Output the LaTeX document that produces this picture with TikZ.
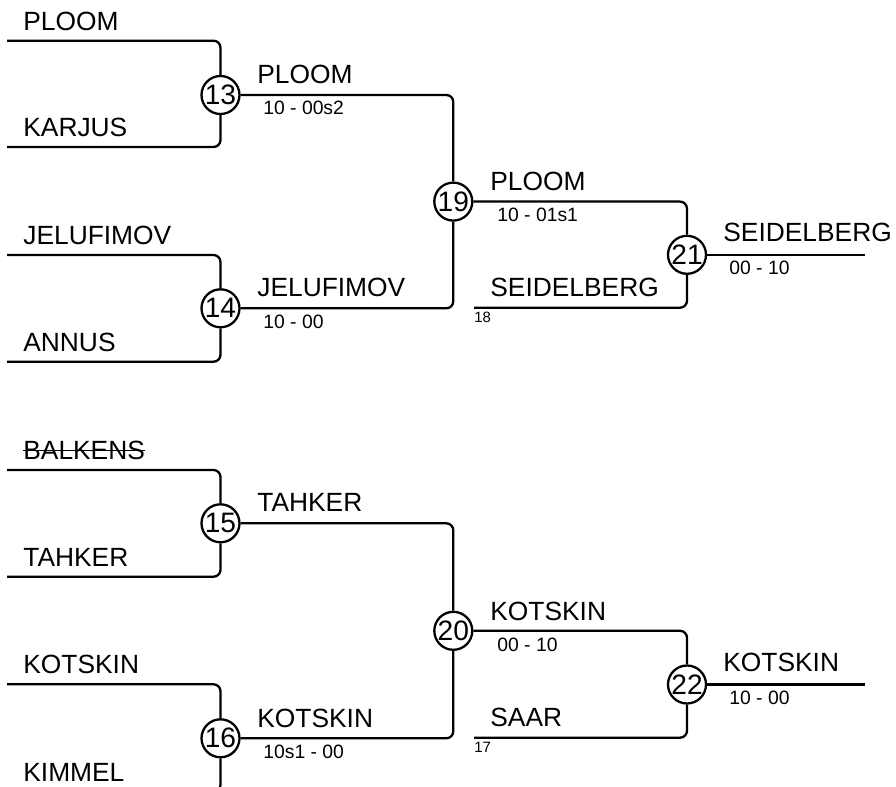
\documentclass[tikz,border=0pt]{standalone}
\usepackage{fontspec}
\setmainfont{Liberation Sans}
\usepackage{tikz}

\tikzset{
  match/.style={circle,draw,line width=1.3pt,minimum size=0.76cm,inner sep=0pt,font=\fontsize{16}{18}\selectfont},
  player/.style={anchor=base west,inner sep=0pt,font=\fontsize{15}{18}\selectfont},
  result/.style={anchor=base west,inner sep=0pt,font=\fontsize{11}{13}\selectfont},
  seed/.style={anchor=base west,inner sep=0pt,font=\fontsize{8.5}{10}\selectfont},
  bracket/.style={line width=1.3pt,rounded corners=0.14cm},
}

\begin{document}
\begin{tikzpicture}[x=0.02cm,y=-0.02cm]
            \useasboundingbox (0,0) rectangle (896,787);
            \clip (0,0) rectangle (896,787);

            % upper half
            \node[match] (m13) at (220.5,95){13};
            \node[match] (m14) at (220.5,308.3){14};
            \node[match] (m19) at (453.3,201.6){19};
            \node[match] (m21) at (687,254.8){21};
            \coordinate (e13a) at (7,40.7);
            \coordinate (e13b) at (7,147);
            \coordinate (e14a) at (7,255);
            \coordinate (e14b) at (7,361.7);
            \coordinate (e21b) at (474,307.7);
            \coordinate (w21) at (865,254.8);

            \draw[bracket] (e13a) -| (m13);
            \draw[bracket] (e13b) -| (m13);
            \draw[bracket] (e14a) -| (m14);
            \draw[bracket] (e14b) -| (m14);
            \draw[bracket] (m13) -| (m19);
            \draw[bracket] (m14) -| (m19);
            \draw[bracket] (m19) -| (m21);
            \draw[bracket] (e21b) -| (m21);
            \draw[bracket] (m21) -- (w21);

            \node[player] (n13a) at (23,30.2){PLOOM};
            \node[player] (n13b) at (23,136.5){KARJUS};
            \node[player] (n14a) at (23,244.5){JELUFIMOV};
            \node[player] (n14b) at (23,351.2){ANNUS};
            \node[player] (w13) at (257,83.5){PLOOM};
            \node[result] (r13) at (263,115){10 - 00s2};
            \node[player] (w14) at (257,296.8){JELUFIMOV};
            \node[result] (r14) at (263,328.3){10 - 00};
            \node[player] (w19) at (490,190.6){PLOOM};
            \node[result] (r19) at (497,221.6){10 - 01s1};
            \node[player] (n21b) at (490,296.7){SEIDELBERG};
            \node[seed] (s18) at (474,322.7){18};
            \node[player] (n21w) at (723,241.5){SEIDELBERG};
            \node[result] (r21) at (729,274.8){00 - 10};

            % lower half
            \node[match] (m15) at (220.5,523.3){15};
            \node[match] (m16) at (220.5,738.3){16};
            \node[match] (m20) at (453.3,630.8){20};
            \node[match] (m22) at (687,684.5){22};
            \coordinate (e15a) at (7,470);
            \coordinate (e15b) at (7,576.7);
            \coordinate (e16a) at (7,684.3);
            \coordinate (e16b) at (7,791.7);
            \coordinate (e22b) at (474,737.7);
            \coordinate (w22) at (865,684.5);

            \draw[bracket] (e15a) -| (m15);
            \draw[bracket] (e15b) -| (m15);
            \draw[bracket] (e16a) -| (m16);
            \draw[bracket] (e16b) -| (m16);
            \draw[bracket] (m15) -| (m20);
            \draw[bracket] (m16) -| (m20);
            \draw[bracket] (m20) -| (m22);
            \draw[bracket] (e22b) -| (m22);
            \draw[bracket] (m22) -- (w22);

            \node[player] (n15a) at (23,459.5){BALKENS};
            \draw[line width=0.8pt] (n15a.west) -- (n15a.east);
            \node[player] (n15b) at (23,566.2){TAHKER};
            \node[player] (n16a) at (23,673.8){KOTSKIN};
            \node[player] (n16b) at (23,781.2){KIMMEL};
            \node[player] (w15) at (257,511.8){TAHKER};
            \node[player] (w16) at (257,727.3){KOTSKIN};
            \node[result] (r16) at (263,758.3){10s1 - 00};
            \node[player] (w20) at (490,620){KOTSKIN};
            \node[result] (r20) at (497,651){00 - 10};
            \node[player] (n22b) at (490,726.7){SAAR};
            \node[seed] (s17) at (474,752.7){17};
            \node[player] (n22w) at (723,671.3){KOTSKIN};
            \node[result] (r22) at (729,704.5){10 - 00};
          \end{tikzpicture}
\end{document}
